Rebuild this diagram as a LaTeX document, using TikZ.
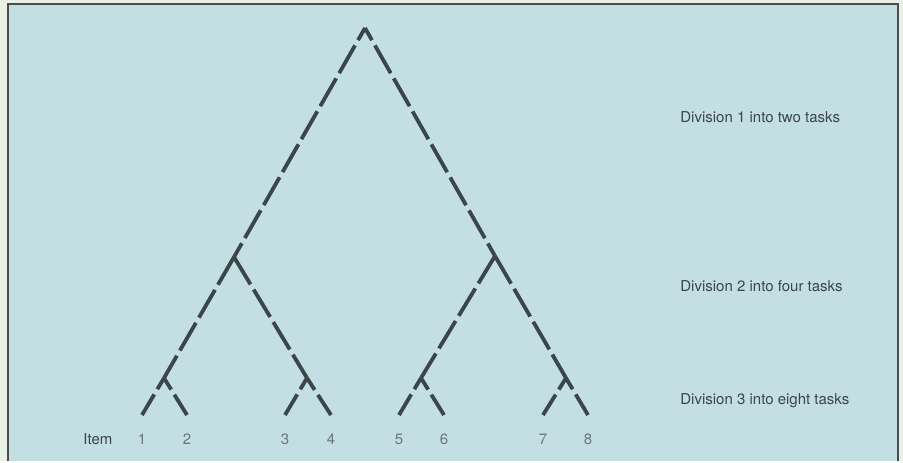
\documentclass[tikz,border=0pt]{standalone}
\usepackage{fontspec}
\setmainfont{TeX Gyre Heros}
\usepackage{tikz}
\usetikzlibrary{positioning}

\definecolor{paper}{HTML}{E9F0E6}
\definecolor{panel}{HTML}{C4DFE3}
\definecolor{ink}{HTML}{3A4649}
\definecolor{numgray}{HTML}{6B7679}

\begin{document}
\begin{tikzpicture}[
  x=0.5pt, y=-0.5pt,
  every node/.style={inner sep=0pt, font=\fontsize{7.5}{9}\selectfont, text=ink},
  branch/.style={draw=ink, line width=1.9pt, dash pattern=on 16pt off 3pt},
  lvl/.style={anchor=base west},
  num/.style={anchor=base, text=numgray}
]
  % panel
  \fill[paper] (0,0) rectangle (903,461);
  \fill[panel] (8,4) rectangle (898,461);
  \draw[gray!60!black, line width=1pt] (8,461) -- (8,4) -- (898,4) -- (898,461);
  \useasboundingbox (0,0) rectangle (903,461);

  % split points
  \coordinate (top) at (365,28);
  \coordinate (l)   at (234,257);
  \coordinate (r)   at (495,256);
  \coordinate (a)   at (164,378);
  \coordinate (b)   at (307,378);
  \coordinate (c)   at (421,378);
  \coordinate (d)   at (566,378);

  % items
  \coordinate (e1) at (142,415);
  \coordinate (e2) at (187,415);
  \coordinate (e3) at (285,415);
  \coordinate (e4) at (331,415);
  \coordinate (e5) at (399,415);
  \coordinate (e6) at (444,415);
  \coordinate (e7) at (543,415);
  \coordinate (e8) at (588,415);

  \draw[branch, dash phase=9pt] (top) -- (l);
  \draw[branch, dash phase=9pt] (top) -- (r);
  \draw[branch] (l) -- (a);
  \draw[branch] (l) -- (b);
  \draw[branch] (r) -- (c);
  \draw[branch] (r) -- (d);
  % bottom forks, drawn up from the items
  \draw[branch, dash phase=4pt] (e1) -- (a);
  \draw[branch, dash phase=4pt] (e2) -- (a);
  \draw[branch, dash phase=4pt] (e3) -- (b);
  \draw[branch, dash phase=4pt] (e4) -- (b);
  \draw[branch, dash phase=4pt] (e5) -- (c);
  \draw[branch, dash phase=4pt] (e6) -- (c);
  \draw[branch, dash phase=4pt] (e7) -- (d);
  \draw[branch, dash phase=4pt] (e8) -- (d);

  % labels
  \node (div1) at (680,122) [lvl] {Division 1 into two tasks};
  \node (div2) at (680,291) [lvl] {Division 2 into four tasks};
  \node (div3) at (680,404) [lvl] {Division 3 into eight tasks};

  \node (item) at (83,444) [lvl] {Item};
  \foreach \i/\x in {1/142, 2/187, 3/285, 4/331, 5/399, 6/444, 7/543, 8/588}
    \node (n\i) at (\x,444) [num] {\i};
\end{tikzpicture}
\end{document}
